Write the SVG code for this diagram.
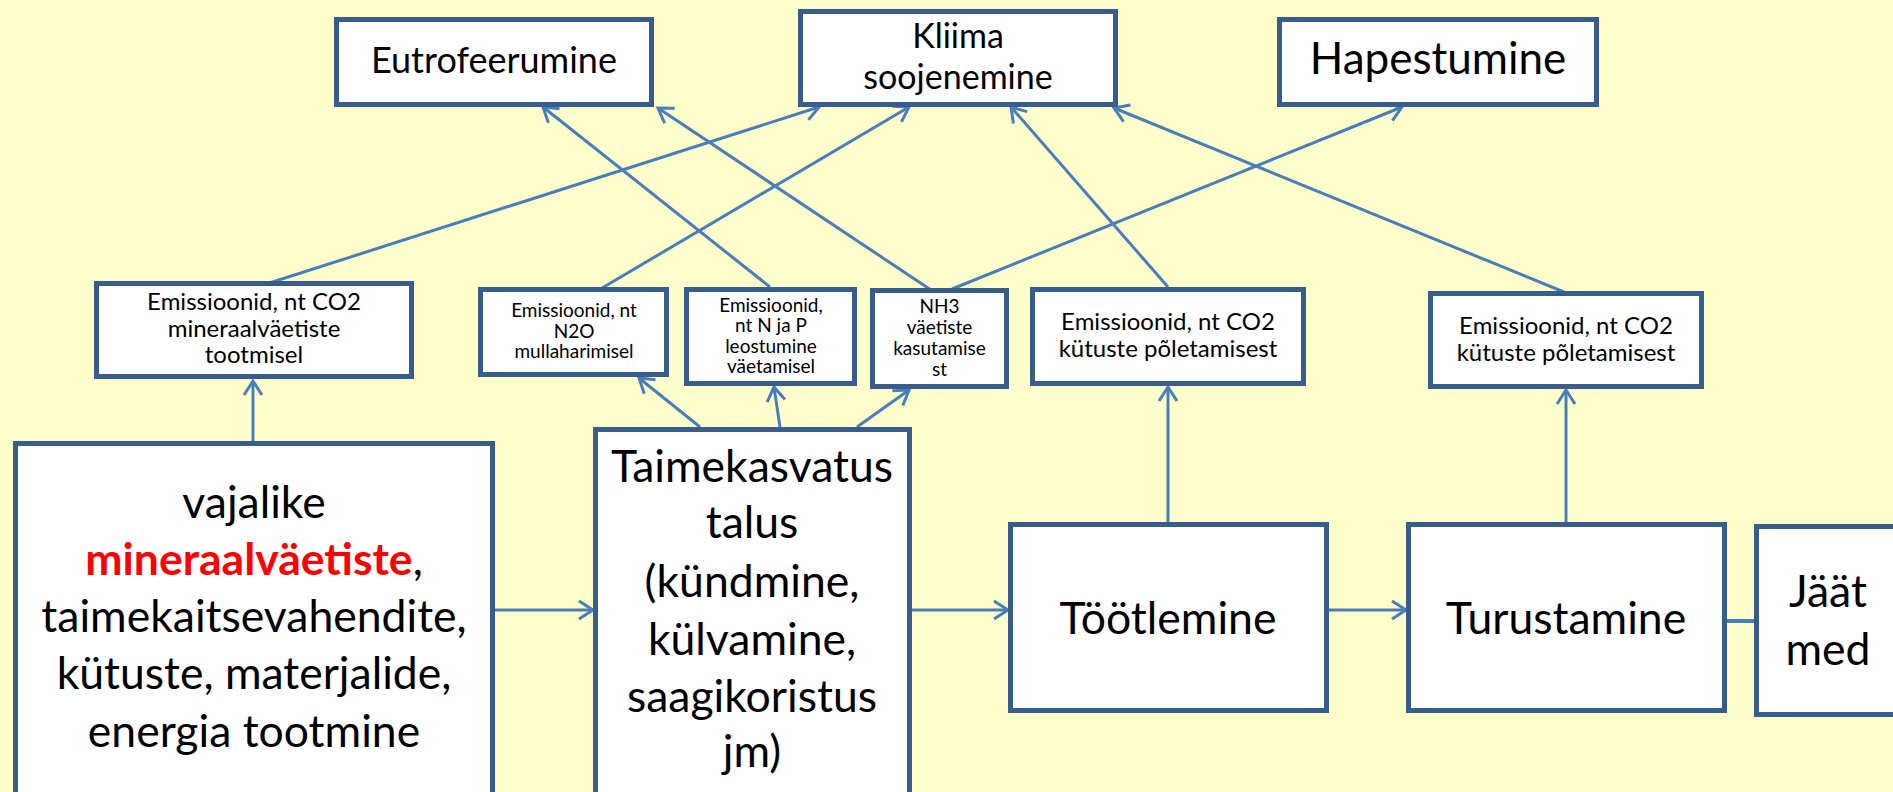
<svg xmlns="http://www.w3.org/2000/svg" width="1893" height="792" viewBox="0 0 1893 792">
<defs>
<style>
.box{fill:#ffffff;stroke:#385d8a;stroke-width:5}
.c{fill:none;stroke:#4a7ebb;stroke-width:3}
text{font-family:Lato,"Liberation Sans",sans-serif;fill:#000;text-anchor:middle}
.big{font-size:44.5px}
.mid{font-size:36px}
.kl{font-size:34px}
.hap{font-size:44px}
.s1{font-size:24px}
.s2{font-size:19px}
.red{fill:#ff0000;font-weight:bold}
</style>
<marker id="arr" markerWidth="20" markerHeight="22" refX="16" refY="11" orient="auto" markerUnits="userSpaceOnUse">
<path d="M2,2 L16,11 L2,20" fill="none" stroke="#4a7ebb" stroke-width="3"/>
</marker>
</defs>
<rect width="1893" height="792" fill="#ffffcc"/>
<g id="connectors">
<path class="c" d="M495,610 L593,610" marker-end="url(#arr)"/>
<path class="c" d="M912,610 L1008,610" marker-end="url(#arr)"/>
<path class="c" d="M1329,610 L1406,610" marker-end="url(#arr)"/>
<path class="c" d="M1727,621 L1754,621" style="stroke-width:4"/>
<path class="c" d="M253,441 L253,381" marker-end="url(#arr)"/>
<path class="c" d="M700,427 L639,378" marker-end="url(#arr)"/>
<path class="c" d="M780,427 L774,387" marker-end="url(#arr)"/>
<path class="c" d="M857,427 L909,390" marker-end="url(#arr)"/>
<path class="c" d="M1168,522 L1168,387" marker-end="url(#arr)"/>
<path class="c" d="M1566,522 L1566,390" marker-end="url(#arr)"/>
<path class="c" d="M260,286 L819,107" marker-end="url(#arr)"/>
<path class="c" d="M597,291 L909,107" marker-end="url(#arr)"/>
<path class="c" d="M770,287 L543,107" marker-end="url(#arr)"/>
<path class="c" d="M931,290 L658,108" marker-end="url(#arr)"/>
<path class="c" d="M952,289 L1402,107" marker-end="url(#arr)"/>
<path class="c" d="M1168,287 L1011,107" marker-end="url(#arr)"/>
<path class="c" d="M1564,292 L1114,108" marker-end="url(#arr)"/>
</g>
<g id="eutrofeerumine">
<rect class="box" x="336.5" y="19.5" width="315" height="85"/>
<text class="mid" x="494" y="73">Eutrofeerumine</text>
</g>
<g id="kliima">
<rect class="box" x="800.5" y="11.5" width="315" height="93"/>
<text class="kl" x="958" y="48">Kliima</text>
<text class="kl" x="958" y="89">soojenemine</text>
</g>
<g id="hapestumine">
<rect class="box" x="1279.5" y="19.5" width="317" height="85"/>
<text class="hap" x="1438" y="74">Hapestumine</text>
</g>
<g id="em-mineraal">
<rect class="box" x="96.5" y="283.5" width="315" height="93"/>
<text class="s1" x="254" y="310">Emissioonid, nt CO2</text>
<text class="s1" x="254" y="337">mineraalväetiste</text>
<text class="s1" x="254" y="363">tootmisel</text>
</g>
<g id="em-n2o">
<rect class="box" x="480.5" y="289.5" width="186" height="85"/>
<text class="s2" x="574" y="317">Emissioonid, nt</text>
<text class="s2" x="574" y="338">N2O</text>
<text class="s2" x="574" y="358">mullaharimisel</text>
</g>
<g id="em-np">
<rect class="box" x="686.5" y="289.5" width="168" height="94"/>
<text class="s2" x="771" y="312">Emissioonid,</text>
<text class="s2" x="771" y="332">nt N ja P</text>
<text class="s2" x="771" y="353">leostumine</text>
<text class="s2" x="771" y="373">väetamisel</text>
</g>
<g id="em-nh3">
<rect class="box" x="872.5" y="290.5" width="134" height="96"/>
<text class="s2" x="939.5" y="313">NH3</text>
<text class="s2" x="939.5" y="334">väetiste</text>
<text class="s2" x="939.5" y="355">kasutamise</text>
<text class="s2" x="939.5" y="376">st</text>
</g>
<g id="em-kytus1">
<rect class="box" x="1032.5" y="289.5" width="271" height="94"/>
<text class="s1" x="1168" y="330">Emissioonid, nt CO2</text>
<text class="s1" x="1168" y="357">kütuste põletamisest</text>
</g>
<g id="em-kytus2">
<rect class="box" x="1430.5" y="293.5" width="271" height="93"/>
<text class="s1" x="1566" y="334">Emissioonid, nt CO2</text>
<text class="s1" x="1566" y="361">kütuste põletamisest</text>
</g>
<g id="tootmine">
<rect class="box" x="15.5" y="443.5" width="477" height="360"/>
<text class="big" x="254" y="518">vajalike</text>
<text class="big" x="254" y="575"><tspan class="red">mineraalväetiste</tspan>,</text>
<text class="big" x="254" y="632">taimekaitsevahendite,</text>
<text class="big" x="254" y="689">kütuste, materjalide,</text>
<text class="big" x="254" y="747">energia tootmine</text>
</g>
<g id="taimekasvatus">
<rect class="box" x="595.5" y="429.5" width="314" height="370"/>
<text class="big" x="752" y="482">Taimekasvatus</text>
<text class="big" x="752" y="538">talus</text>
<text class="big" x="752" y="597">(kündmine,</text>
<text class="big" x="752" y="655">külvamine,</text>
<text class="big" x="752" y="712">saagikoristus</text>
<text class="big" x="752" y="767">jm)</text>
</g>
<g id="tootlemine">
<rect class="box" x="1010.5" y="524.5" width="316" height="186"/>
<text class="big" x="1168" y="634">Töötlemine</text>
</g>
<g id="turustamine">
<rect class="box" x="1408.5" y="524.5" width="316" height="186"/>
<text class="big" x="1566" y="634">Turustamine</text>
</g>
<g id="jaatmed">
<rect class="box" x="1756.5" y="526.5" width="200" height="188"/>
<text class="big" x="1828" y="607">Jäät</text>
<text class="big" x="1828" y="665">med</text>
</g>
</svg>
